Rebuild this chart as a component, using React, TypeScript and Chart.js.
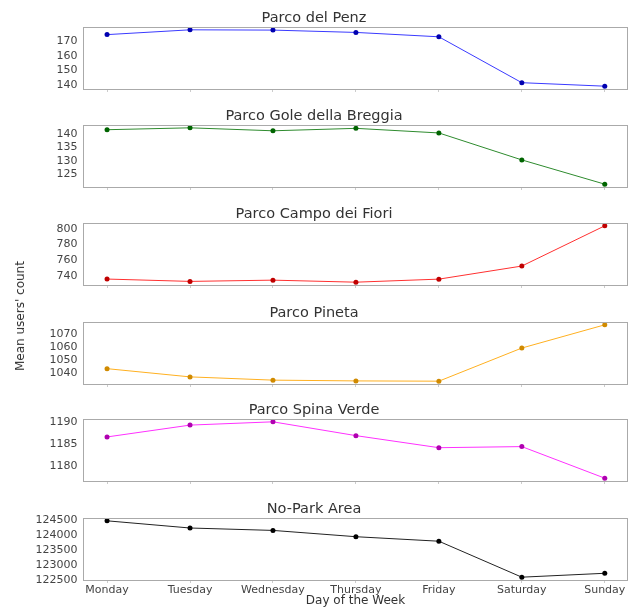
import React, { useEffect, useRef } from "react";
import { Chart, registerables } from "chart.js";
Chart.register(...registerables);

const days = ["Monday", "Tuesday", "Wednesday", "Thursday", "Friday", "Saturday", "Sunday"];

const titles = [
  "Parco del Penz",
  "Parco Gole della Breggia",
  "Parco Campo dei Fiori",
  "Parco Pineta",
  "Parco Spina Verde",
  "No-Park Area",
];

const penz = [174.5, 177.8, 177.6, 176.0, 173.0, 141.4, 139.0];
const breggia = [141.6, 142.3, 141.2, 142.1, 140.4, 130.4, 121.4];
const campo = [736, 733, 734.6, 732, 735.9, 752.6, 804];
const pineta = [1043.8, 1037.5, 1035, 1034.4, 1034.2, 1059.6, 1077.4];
const spina = [1186.7, 1189.4, 1190.15, 1187, 1184.25, 1184.5, 1177.3];
const noPark = [124470, 124230, 124150, 123940, 123790, 122590, 122720];

const penzTicks = [140, 150, 160, 170];
const breggiaTicks = [125, 130, 135, 140];
const campoTicks = [740, 760, 780, 800];
const pinetaTicks = [1040, 1050, 1060, 1070];
const spinaTicks = [1180, 1185, 1190];
const noParkTicks = [122500, 123000, 123500, 124000, 124500];

const seriesList = [penz, breggia, campo, pineta, spina, noPark];
const tickList = [penzTicks, breggiaTicks, campoTicks, pinetaTicks, spinaTicks, noParkTicks];
const lineColors = ["#3a3aff", "#2e8b2e", "#ff3030", "#ffb020", "#ff30ff", "#222222"];
const pointColors = ["#0000b0", "#006400", "#c00000", "#d08a00", "#b000b0", "#000000"];

const boxTops = [27, 125, 223, 322, 419, 518];
const BOX_H = 62;
const TITLE_H = 27;
const FONT = "'DejaVu Sans', sans-serif";

const framePlugin = {
  id: "frame",
  afterDraw(chart: any) {
    const { ctx, chartArea } = chart;
    ctx.save();
    ctx.strokeStyle = "#aaaaaa";
    ctx.lineWidth = 1;
    ctx.strokeRect(
      Math.round(chartArea.left) + 0.5,
      Math.round(chartArea.top) + 0.5,
      Math.round(chartArea.right - chartArea.left) - 1,
      Math.round(chartArea.bottom - chartArea.top)
    );
    ctx.restore();
  },
};

function Panel({ idx }: { idx: number }) {
  const ref = useRef<HTMLCanvasElement>(null);
  const last = idx === 5;
  const axisH = last ? 28 : 4;
  const height = TITLE_H + BOX_H + axisH;
  useEffect(() => {
    const values = seriesList[idx];
    const ticks = tickList[idx];
    const mn = Math.min(...values);
    const mx = Math.max(...values);
    const r = mx - mn;
    const chart = new Chart(ref.current as HTMLCanvasElement, {
      type: "line",
      data: {
        datasets: [
          {
            data: values.map((v, i) => ({ x: i, y: v })),
            borderColor: lineColors[idx],
            borderWidth: 1,
            pointRadius: 2.5,
            pointBackgroundColor: pointColors[idx],
            pointBorderColor: pointColors[idx],
            pointBorderWidth: 0,
            tension: 0,
            clip: false,
          },
        ],
      },
      options: {
        animation: false,
        responsive: false,
        maintainAspectRatio: false,
        layout: { padding: 0, autoPadding: false },
        plugins: {
          legend: { display: false },
          tooltip: { enabled: false },
          title: {
            display: true,
            text: titles[idx],
            color: "#333",
            font: { family: FONT, size: 14.5, weight: "normal", lineHeight: 1.2 },
            padding: { top: 9.6, bottom: 0 },
          },
        },
        scales: {
          x: {
            type: "linear",
            min: -0.29,
            max: 6.28,
            afterBuildTicks: (a: any) => {
              a.ticks = days.map((_, i) => ({ value: i }));
            },
            afterFit: (s: any) => {
              s.height = axisH;
              s.paddingLeft = 0;
              s.paddingRight = 0;
            },
            grid: { display: true, drawOnChartArea: false, drawTicks: true, tickLength: 3, color: "#cccccc" },
            border: { display: false },
            ticks: {
              display: last,
              callback: (v: any) => days[v as number] ?? "",
              font: { family: FONT, size: 11 },
              color: "#444",
              padding: 1,
              maxRotation: 0,
              autoSkip: false,
            },
            title: {
              display: last,
              text: "Day of the Week",
              color: "#333",
              font: { family: FONT, size: 12 },
              padding: 0,
            },
          },
          y: {
            min: mn - 0.05 * r,
            max: mx + 0.05 * r,
            afterBuildTicks: (a: any) => {
              a.ticks = ticks.map((v) => ({ value: v }));
            },
            afterFit: (s: any) => {
              s.width = 83;
              s.paddingTop = 0;
              s.paddingBottom = 0;
            },
            grid: { display: false, drawTicks: false },
            border: { display: false },
            ticks: {
              font: { family: FONT, size: 11 },
              color: "#444",
              padding: 5.5,
              autoSkip: false,
              callback: (v: any) => String(v),
            },
          },
        },
      } as any,
      plugins: [framePlugin],
    });
    return () => chart.destroy();
  }, []);
  return (
    <canvas
      ref={ref}
      width={628}
      height={height}
      style={{ position: "absolute", left: 0, top: boxTops[idx] - TITLE_H, width: 628, height }}
    />
  );
}

export default function App() {
  return (
    <div
      style={{
        position: "fixed",
        left: 0,
        top: 0,
        width: 628,
        height: 607,
        overflow: "hidden",
        background: "#fff",
      }}
    >
      {titles.map((_, i) => (
        <Panel key={i} idx={i} />
      ))}
      <div
        style={{
          position: "absolute",
          left: 20,
          top: 316,
          transform: "translate(-50%, -50%) rotate(-90deg)",
          whiteSpace: "nowrap",
          fontFamily: FONT,
          fontSize: 12,
          color: "#333",
        }}
      >
        Mean users' count
      </div>
    </div>
  );
}
